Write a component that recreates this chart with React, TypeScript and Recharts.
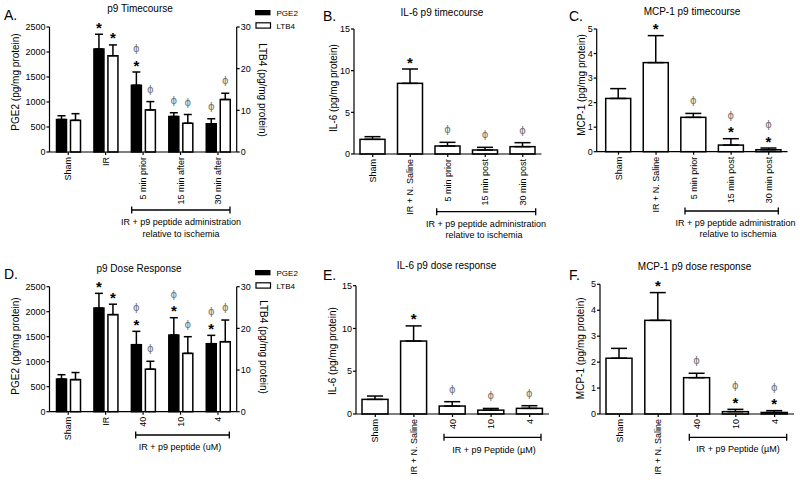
import React from 'react';
import { BarChart, Bar, XAxis, YAxis, ErrorBar } from 'recharts';

const FONT = '"Liberation Sans", Arial, Helvetica, sans-serif';
const PHI = '\u03D5';

// ---------- Panel A: p9 Timecourse (PGE2 / LTB4) ----------
const timeCatsA = ['Sham', 'IR', '5 min prior', '15 min after', '30 min after'];
const pge2A = [650, 2060, 1335, 710, 565];
const pge2ErrA = [75, 295, 265, 75, 100];
const pge2AnnA = ['', '*', PHI + '*', PHI, PHI];
const ltb4A = [7.6, 23.1, 10.1, 6.9, 12.6];
const ltb4ErrA = [1.6, 2.6, 2.0, 2.1, 1.5];
const ltb4AnnA = ['', '*', PHI, PHI, PHI];

// ---------- Panel B: IL-6 p9 timecourse ----------
const timeCatsB = ['Sham', 'IR + N. Saline', '5 min prior', '15 min post', '30 min post'];
const il6B = [1.76, 8.48, 0.96, 0.48, 0.88];
const il6ErrB = [0.32, 1.72, 0.44, 0.32, 0.48];
const il6AnnB = ['', '*', PHI, PHI, PHI];

// ---------- Panel C: MCP-1 p9 timecourse ----------
const mcpC = [2.17, 3.63, 1.40, 0.27, 0.08];
const mcpErrC = [0.40, 1.10, 0.16, 0.26, 0.07];
const mcpAnnC = ['', '*', PHI, PHI + '*', PHI + '*'];

// ---------- Panel D: p9 Dose Response ----------
const doseCatsD = ['Sham', 'IR', '40', '10', '4'];
const pge2D = [653, 2073, 1340, 1533, 1360];
const pge2ErrD = [87, 294, 267, 347, 167];
const pge2AnnD = ['', '*', PHI + '*', PHI + '*', PHI + '*'];
const ltb4D = [7.7, 23.3, 10.2, 14.0, 16.8];
const ltb4ErrD = [1.7, 2.5, 1.9, 4.0, 5.2];
const ltb4AnnD = ['', '*', PHI, PHI, PHI];

// ---------- Panel E: IL-6 p9 dose response ----------
const doseCatsE = ['Sham', 'IR + N. Saline', '40', '10', '4'];
const il6E = [1.71, 8.53, 0.93, 0.45, 0.66];
const il6ErrE = [0.39, 1.77, 0.51, 0.20, 0.31];
const il6AnnE = ['', '*', PHI, PHI, PHI];

// ---------- Panel F: MCP-1 p9 dose response ----------
const mcpF = [2.15, 3.61, 1.40, 0.09, 0.06];
const mcpErrF = [0.38, 1.07, 0.17, 0.09, 0.07];
const mcpAnnF = ['', '*', PHI, PHI + '*', PHI + '*'];

const pgeTicks = [0, 500, 1000, 1500, 2000, 2500];
const ltbTicks = [0, 10, 20, 30];
const il6Ticks = [0, 5, 10, 15];
const mcpTicks = [0, 1, 2, 3, 4, 5];

const singleRows = (cats: string[], v: number[], e: number[], a: string[]) =>
  cats.map((c, i) => ({ cat: c, v: v[i], e: [0, e[i]], ann: a[i] }));
const dualRows = (cats: string[], p: number[], pe: number[], pa: string[], l: number[], le: number[], la: string[]) =>
  cats.map((c, i) => ({ cat: c, p: p[i], pe: [0, pe[i]], pa: pa[i], l: l[i], le: [0, le[i]], la: la[i] }));

const dataA = dualRows(timeCatsA, pge2A, pge2ErrA, pge2AnnA, ltb4A, ltb4ErrA, ltb4AnnA);
const dataB = singleRows(timeCatsB, il6B, il6ErrB, il6AnnB);
const dataC = singleRows(timeCatsB, mcpC, mcpErrC, mcpAnnC);
const dataD = dualRows(doseCatsD, pge2D, pge2ErrD, pge2AnnD, ltb4D, ltb4ErrD, ltb4AnnD);
const dataE = singleRows(doseCatsE, il6E, il6ErrE, il6AnnE);
const dataF = singleRows(doseCatsE, mcpF, mcpErrF, mcpAnnF);

const axisStyle = { stroke: '#000', strokeWidth: 1.2 };
const tickStyle = { fill: '#000', fontSize: 9, fontFamily: FONT };

const Annot = ({ cx, top, ann }: { cx: number; top: number; ann: string }) => {
  const star = ann.includes('*');
  const phi = ann.includes(PHI);
  return (
    <g>
      {star && (
        <text x={cx} y={top - 10 + 8.5} textAnchor="middle" fontSize={15} fontWeight="bold" fontFamily={FONT} fill="#000">
          *
        </text>
      )}
      {phi && (
        <text x={cx} y={(star ? top - 23 : top - 12) + 3} textAnchor="middle" fontSize={10} fontFamily='"DejaVu Sans", sans-serif' fill="#707070">
          {PHI}
        </text>
      )}
    </g>
  );
};

const barShape = (valKey: string, errKey: string, annKey: string, fill: string) => (props: any) => {
  const { x, y, width, height, payload } = props;
  const v = payload[valKey];
  const e = payload[errKey][1];
  const ppu = v > 0 ? height / v : 0;
  const errTop = y - e * ppu;
  return (
    <g>
      <rect x={x} y={y} width={width} height={height} fill={fill} stroke="#000" strokeWidth={1.5} />
      <Annot cx={x + width / 2} top={errTop} ann={payload[annKey] || ''} />
    </g>
  );
};

const RotTick = (props: any) => {
  const { x, y, payload } = props;
  return (
    <text x={x} y={y} transform={`rotate(-90 ${x} ${y})`} textAnchor="end" dy="0.35em" fontSize={9} fontFamily={FONT} fill="#000">
      {payload.value}
    </text>
  );
};

type SingleProps = {
  left: number; top: number; width: number; height: number; mTop: number; mRight: number;
  yW: number; xH: number; padL: number; data: any[]; domain: [number, number]; ticks: number[]; barSize: number; capW: number;
};

const SinglePanel = (p: SingleProps) => (
  <div style={{ position: 'absolute', left: p.left, top: p.top }}>
    <BarChart width={p.width} height={p.height} data={p.data} margin={{ top: p.mTop, right: p.mRight, left: 0, bottom: 0 }} barSize={p.barSize}>
      <XAxis dataKey="cat" interval={0} tick={<RotTick />} tickSize={3} tickMargin={2} height={p.xH} padding={{ left: p.padL, right: 0 }} axisLine={axisStyle} tickLine={axisStyle} />
      <YAxis width={p.yW} domain={p.domain} ticks={p.ticks} interval={0} tickSize={3} tickMargin={1} tick={tickStyle} axisLine={axisStyle} tickLine={axisStyle} />
      <Bar dataKey="v" isAnimationActive={false} shape={barShape('v', 'e', 'ann', '#fff')}>
        <ErrorBar dataKey="e" width={p.capW} strokeWidth={1.5} stroke="#000" />
      </Bar>
    </BarChart>
  </div>
);

type DualProps = { left: number; top: number; width: number; height: number; mTop: number; yW: number; yRW: number; xH: number; data: any[] };

const DualPanel = (p: DualProps) => (
  <div style={{ position: 'absolute', left: p.left, top: p.top }}>
    <BarChart width={p.width} height={p.height} data={p.data} margin={{ top: p.mTop, right: 0, left: 0, bottom: 0 }} barSize={10} barGap={4}>
      <XAxis dataKey="cat" interval={0} tick={<RotTick />} tickSize={3} tickMargin={2} height={p.xH} axisLine={axisStyle} tickLine={axisStyle} />
      <YAxis yAxisId="l" width={p.yW} domain={[0, 2500]} ticks={pgeTicks} interval={0} tickSize={3} tickMargin={1} tick={tickStyle} axisLine={axisStyle} tickLine={axisStyle} />
      <YAxis yAxisId="r" orientation="right" width={p.yRW} domain={[0, 30]} ticks={ltbTicks} interval={0} tickSize={3} tickMargin={1} tick={tickStyle} axisLine={axisStyle} tickLine={axisStyle} />
      <Bar yAxisId="l" dataKey="p" isAnimationActive={false} shape={barShape('p', 'pe', 'pa', '#000')}>
        <ErrorBar dataKey="pe" width={4} strokeWidth={1.5} stroke="#000" />
      </Bar>
      <Bar yAxisId="r" dataKey="l" isAnimationActive={false} shape={barShape('l', 'le', 'la', '#fff')}>
        <ErrorBar dataKey="le" width={4} strokeWidth={1.5} stroke="#000" />
      </Bar>
    </BarChart>
  </div>
);

const Bracket = ({ x1, x2, y }: { x1: number; x2: number; y: number }) => (
  <g stroke="#000" strokeWidth={1.3}>
    <line x1={x1} x2={x2} y1={y} y2={y} />
    <line x1={x1} x2={x1} y1={y - 3.5} y2={y + 3.5} />
    <line x1={x2} x2={x2} y1={y - 3.5} y2={y + 3.5} />
  </g>
);

const T = ({ x, y, s, size = 9, anchor = 'middle' }: any) => (
  <text x={x} y={y} fontSize={size} fontFamily={FONT} textAnchor={anchor} fill="#000">{s}</text>
);

const VLabel = ({ cx, cy, s, rot = -90 }: any) => (
  <text x={cx} y={cy} transform={`rotate(${rot} ${cx} ${cy})`} textAnchor="middle" dominantBaseline="central" fontSize={10} fontFamily={FONT} fill="#000">{s}</text>
);

const Legend2 = ({ dy }: { dy: number }) => (
  <g>
    <rect x={255} y={10 + dy} width={15.5} height={5.3} fill="#000" />
    <rect x={256} y={22.8 + dy} width={14.5} height={5.3} fill="#fff" stroke="#000" strokeWidth={1.2} />
    <T x={276.5} y={15.9 + dy} s="PGE2" size={8} anchor="start" />
    <T x={276.5} y={28.9 + dy} s="LTB4" size={8} anchor="start" />
  </g>
);

export default function App() {
  return (
    <div style={{ position: 'absolute', left: 0, top: 0, width: 800, height: 485, background: '#fff', overflow: 'hidden' }}>
      {/* A */}
      <DualPanel left={0} top={0} width={270} height={245} mTop={27} yW={49.5} yRW={33.3} xH={93} data={dataA} />
      {/* B */}
      <SinglePanel left={270} top={0} width={272} height={245} mTop={29} mRight={0.5} yW={84} xH={91} padL={0} data={dataB} domain={[0, 15]} ticks={il6Ticks} barSize={25} capW={8} />
      {/* C */}
      <SinglePanel left={530} top={0} width={270} height={245} mTop={29} mRight={12.5} yW={66.7} xH={93.3} padL={3} data={dataC} domain={[0, 5]} ticks={mcpTicks} barSize={25} capW={8} />
      {/* D */}
      <DualPanel left={0} top={245} width={270} height={240} mTop={41.7} yW={49.5} yRW={33.3} xH={73.3} data={dataD} />
      {/* E */}
      <SinglePanel left={270} top={245} width={280} height={240} mTop={40.7} mRight={1} yW={86} xH={71} padL={0} data={dataE} domain={[0, 15]} ticks={il6Ticks} barSize={26} capW={8} />
      {/* F */}
      <SinglePanel left={530} top={245} width={270} height={240} mTop={39.3} mRight={6} yW={70} xH={71} padL={0} data={dataF} domain={[0, 5]} ticks={mcpTicks} barSize={26} capW={8} />

      <svg width={800} height={485} style={{ position: 'absolute', left: 0, top: 0, pointerEvents: 'none' }}>
        {/* panel letters */}
        <T x={4} y={20} s="A." size={14} anchor="start" />
        <T x={323} y={20.7} s="B." size={14} anchor="start" />
        <T x={569} y={20.7} s="C." size={14} anchor="start" />
        <T x={4} y={278.5} s="D." size={14} anchor="start" />
        <T x={323} y={280} s="E." size={14} anchor="start" />
        <T x={569} y={280} s="F." size={14} anchor="start" />
        {/* titles */}
        <T x={140} y={12} s="p9 Timecourse" size={10} />
        <T x={442} y={15.5} s="IL-6 p9 timecourse" size={10} />
        <T x={692} y={14.5} s="MCP-1 p9 timecourse" size={10} />
        <T x={139} y={271.5} s="p9 Dose Response" size={10} />
        <T x={446.5} y={269} s="IL-6 p9 dose response" size={10} />
        <T x={694.5} y={269.5} s="MCP-1 p9 dose response" size={10} />
        {/* axis titles */}
        <VLabel cx={15} cy={82} s="PGE2 (pg/mg protein)" />
        <VLabel cx={262} cy={90} s="LTB4 (pg/mg protein)" rot={90} />
        <VLabel cx={333} cy={88} s="IL-6 (pg/mg protein)" />
        <VLabel cx={581.7} cy={85} s="MCP-1 (pg/mg protein)" />
        <VLabel cx={15} cy={346} s="PGE2 (pg/mg protein)" />
        <VLabel cx={263} cy={347} s="LTB4 (pg/mg protein)" rot={90} />
        <VLabel cx={332} cy={351} s="IL-6 (pg/mg protein)" />
        <VLabel cx={580.3} cy={348.3} s="MCP-1 (pg/mg protein)" />
        {/* legends */}
        <Legend2 dy={0} />
        <Legend2 dy={260} />
        {/* brackets */}
        <Bracket x1={131.7} x2={230} y={210} />
        <T x={181} y={224.8} s="IR + p9 peptide administration" />
        <T x={181} y={236.5} s="relative to ischemia" />
        <Bracket x1={436.7} x2={535.7} y={211.7} />
        <T x={486} y={226.5} s="IR + p9 peptide administration" />
        <T x={484} y={237.5} s="relative to ischemia" />
        <Bracket x1={685} x2={778.3} y={211} />
        <T x={735.5} y={225.8} s="IR + p9 peptide administration" />
        <T x={738} y={236.5} s="relative to ischemia" />
        <Bracket x1={135.7} x2={229.3} y={435} />
        <T x={180} y={449.8} s="IR + p9 peptide (uM)" />
        <Bracket x1={444} x2={541} y={437.3} />
        <T x={494} y={453} s={'IR + p9 Peptide (\u00B5M)'} />
        <Bracket x1={689.3} x2={786.7} y={437.3} />
        <T x={738} y={451.5} s={'IR + p9 Peptide (\u00B5M)'} />
      </svg>
    </div>
  );
}
